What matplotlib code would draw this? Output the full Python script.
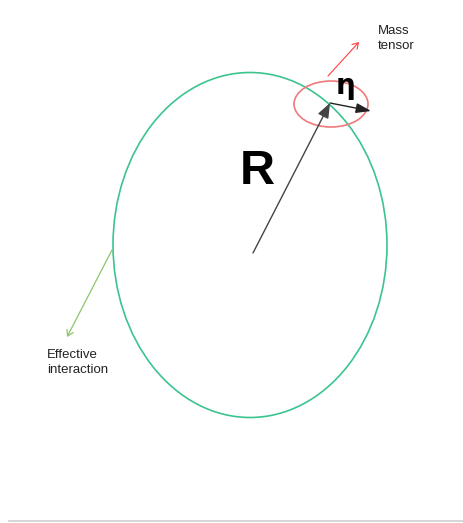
import matplotlib
matplotlib.use("Agg")
import matplotlib.pyplot as plt
from matplotlib.patches import Ellipse

# diagram geometry in pixel coordinates (origin top-left)
BIG_ELLIPSE = (250, 245, 274, 345)     # cx, cy, width, height
SMALL_ELLIPSE = (331, 104, 74, 46)
R_ARROW = ((253, 253), (330, 103))
ETA_ARROW = ((330, 103), (371, 111))
MASS_ARROW = ((328, 76), (359, 42))
EFF_ARROW = ((112, 250), (67, 337))

LABELS = ["R", "η", "Mass\ntensor", "Effective\ninteraction"]

fig = plt.figure(figsize=(4.64, 5.23), dpi=100)
ax = fig.add_axes([0, 0, 1, 1])
ax.set_xlim(0, 464)
ax.set_ylim(523, 0)
ax.axis("off")

cx, cy, w, h = BIG_ELLIPSE
ax.add_patch(Ellipse((cx, cy), w, h, fill=False, edgecolor="#3cc48e", linewidth=1.2))
cx, cy, w, h = SMALL_ELLIPSE
ax.add_patch(Ellipse((cx, cy), w, h, fill=False, edgecolor="#ef7a7a", linewidth=1.2))

def arrow(p0, p1, color, lw, head):
    ax.annotate("", xy=p1, xytext=p0,
                arrowprops=dict(arrowstyle=head, color=color, lw=lw,
                                shrinkA=0, shrinkB=0))

arrow(*R_ARROW, "#444444", 1.0, "-|>,head_length=0.9,head_width=0.35")
arrow(*ETA_ARROW, "#222222", 1.0, "-|>,head_length=0.9,head_width=0.3")
arrow(*MASS_ARROW, "#ff4040", 0.8, "->,head_length=0.4,head_width=0.25")
arrow(*EFF_ARROW, "#8cc56a", 0.9, "->,head_length=0.4,head_width=0.25")

ax.text(257, 172, LABELS[0], fontsize=35, fontweight="bold",
        family=["Liberation Sans Narrow", "Liberation Sans"],
        ha="center", va="center")
ax.text(346, 86, LABELS[1], fontsize=20, fontweight="bold",
        family="DejaVu Sans", ha="center", va="center")
ax.text(378, 25, LABELS[2], fontsize=9.5, family="Liberation Sans",
        ha="left", va="top", color="#222222", linespacing=1.35)
ax.text(47, 349, LABELS[3], fontsize=9.5, family="Liberation Sans",
        ha="left", va="top", color="#222222", linespacing=1.35)

ax.plot([9, 464], [521, 521], color="#d0d0d0", lw=1.2)

fig.savefig("out.png", dpi=100)
